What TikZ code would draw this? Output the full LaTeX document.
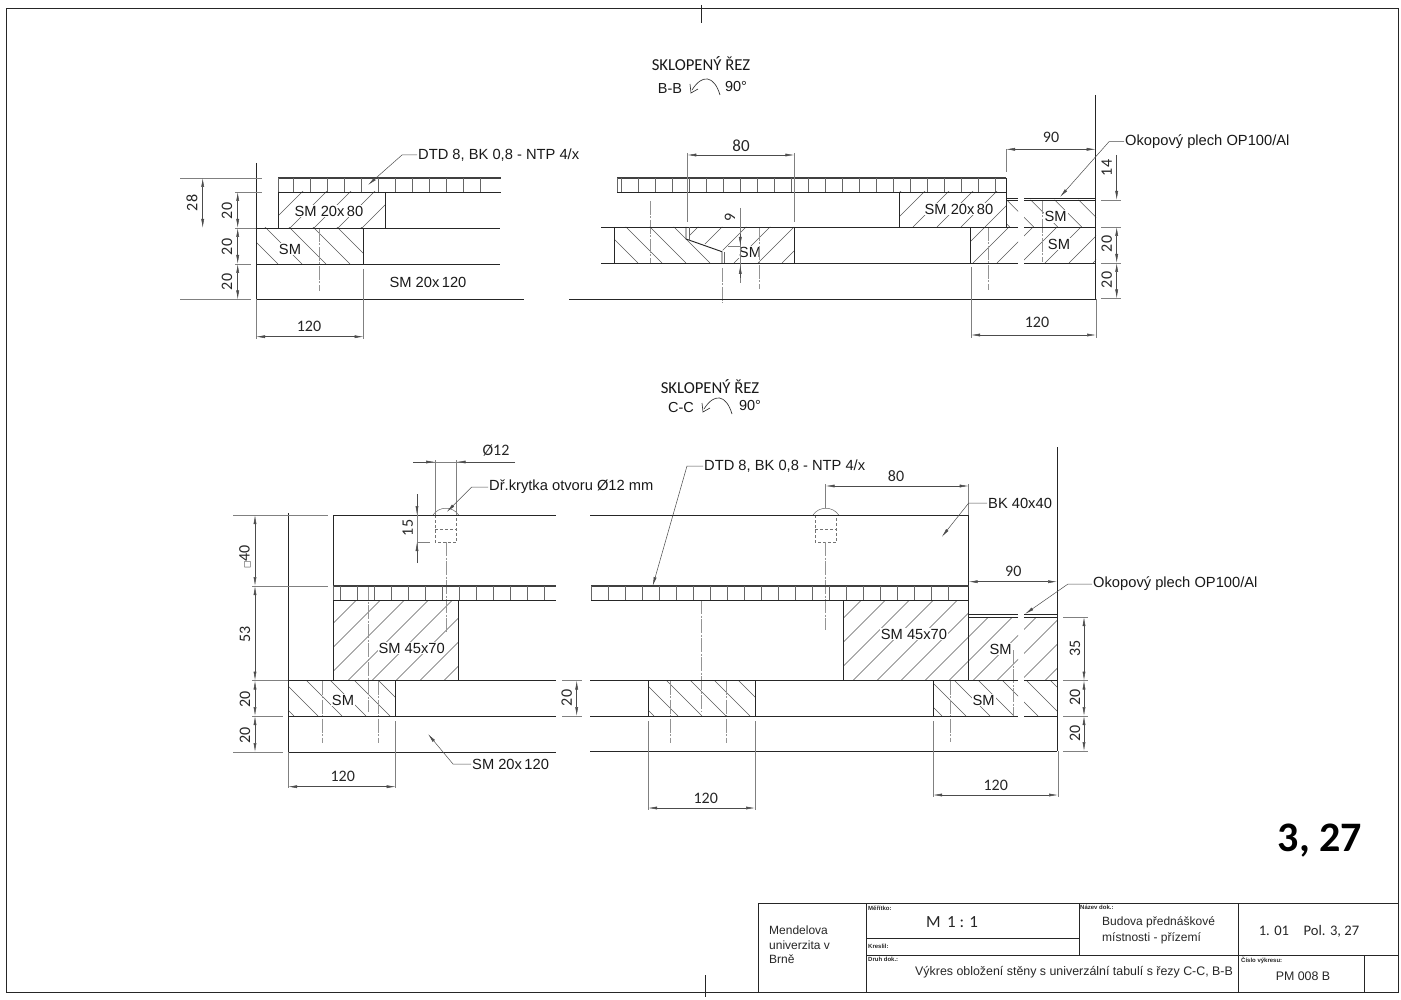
\documentclass[tikz,border=0pt]{standalone}
\usepackage{fontspec}
\setmainfont{Liberation Sans}
\newfontfamily\numfont{Carlito}
\newfontfamily\symfont{DejaVu Sans}
\usetikzlibrary{arrows.meta}

\tikzset{
	wall/.style={line width=0.95pt, black!85},
	thinline/.style={line width=0.5pt, black!60},
	extline/.style={line width=0.5pt, black!50},
	centerline/.style={line width=0.5pt, black!42, dash pattern=on 14pt off 1.5pt on 2pt off 1.5pt},
	hatchline/.style={line width=0.45pt, black!65},
	plugline/.style={line width=0.45pt, black!55, densely dashed},
	dimline/.style={line width=0.5pt, black!70, {Latex[length=9pt,width=3pt]}-{Latex[length=9pt,width=3pt]}},
	tipline/.style={line width=0.5pt, black!70, -{Latex[length=9pt,width=3pt]}},
	lab/.style={font=\fontsize{14.7}{17}\selectfont, black!90, inner sep=1pt},
	hatchlab/.style={lab, fill=white},
	num/.style={font=\numfont\fontsize{16}{18}\selectfont, black!85, inner sep=0pt},
	titl/.style={font=\numfont\fontsize{16.7}{18}\selectfont, black!90, inner sep=0pt},
	blockt/.style={font=\fontsize{12}{15}\selectfont, black!85, inner sep=0pt, anchor=west},
	tiny/.style={font=\bfseries\fontsize{6}{7}\selectfont, black!85, inner sep=0pt, anchor=west},
}

% hatching: clip path, lower y, x where one line meets lower y
\newcommand{\hatchup}[3]{
	\begin{scope}
		\clip #1;
		\foreach \hx in {-6,...,8}
			\draw[hatchline] ({#3+\hx*24},#2) -- ++(120,-120);
	\end{scope}
}
\newcommand{\hatchdown}[3]{
	\begin{scope}
		\clip #1;
		\foreach \hx in {-6,...,8}
			\draw[hatchline] ({#3+\hx*24},#2) -- ++(-120,-120);
	\end{scope}
}
% panel with its cells: x1, x2, y1, y2, tick list
\newcommand{\panelstrip}[5]{
	\draw[line width=1.3pt, black!75] (#1,#3) -- (#2,#3);
	\draw[wall] (#1,#4) -- (#2,#4);
	\draw[thinline] (#1,#3) -- (#1,#4);
	\foreach \tx in {#5}
		\draw[thinline] (\tx,#3) -- (\tx,#4);
}
% turned section mark
\newcommand{\turnmark}[2]{
	\begin{scope}[shift={(#1,#2)}]
		\draw[line width=0.65pt, black!80] (720,95) .. controls (714,75) and (702,74) .. (692,90);
		\draw[line width=0.65pt, black!80] (690,84) -- (691,93) -- (698,89);
	\end{scope}
}
% cap and plug: x1, x2, x of the axis, y of the axis end
\newcommand{\plugcap}[4]{
	\draw[thinline] (#1-2,515) .. controls (#1+4,506) and (#2-4,506) .. (#2+2,515);
	\draw[plugline] (#1,515) -- (#1,542) -- (#2,542) -- (#2,515);
	\draw[plugline] (#1,529) -- (#2,529);
	\draw[centerline] (#3,542) -- (#3,#4);
}

\begin{document}
\begin{tikzpicture}[x=1pt, y=-1pt]
	\useasboundingbox (0,0) rectangle (1401,1000);

	% sheet
	\draw[wall] (6,8) rectangle (1398,992);
	\draw[wall] (701,5) -- (701,23);
	\draw[wall] (705,975) -- (705,997);

	% titles
	\node[titl] (titleb) at (701,64) {SKLOPENÝ ŘEZ};
	\node[lab, font=\fontsize{14.5}{16}\selectfont] (markb) at (670,89) {B-B};
	\node[lab, font=\fontsize{14.5}{16}\selectfont] (angleb) at (736,87) {90°};
	\turnmark{0}{0}
	\node[titl] (titlec) at (710,387) {SKLOPENÝ ŘEZ};
	\node[lab, font=\fontsize{14.5}{16}\selectfont] (markc) at (681,408) {C-C};
	\node[lab, font=\fontsize{14.5}{16}\selectfont] (anglec) at (750,406) {90°};
	\turnmark{12}{319}
	\node[font=\numfont\bfseries\fontsize{42}{46}\selectfont, black, inner sep=0pt] (sheetno) at (1320,841) {3, 27};

	% ----- section B-B, left
	\hatchup{(278,192) rectangle (385,228)}{228}{290}
	\hatchdown{(256,228) rectangle (363.5,264)}{264}{278}
	\node[hatchlab] (bsma) at (329,211) {SM 20x\,80};
	\node[hatchlab] (bsmb) at (290,249) {SM};
	\node[lab] (bsmc) at (428,282) {SM 20x\,120};
	\draw[centerline] (319,228) -- (319,291);
	\draw[wall] (256,163) -- (256,299.5);
	\panelstrip{278}{501}{178}{192}{293.7,310.7,...,497}
	\draw[wall] (278,192) -- (278,228) (385,192) -- (385,228);
	\draw[wall] (256,228) -- (500,228);
	\draw[wall] (363.5,228) -- (363.5,264);
	\draw[wall] (256,264) -- (500,264);
	\draw[wall] (256,299.5) -- (524,299.5);
	\draw[extline] (180,178) -- (262,178) (235,192) -- (262,192) (235,228) -- (256,228);
	\draw[extline] (235,264) -- (251,264) (180,299.5) -- (251,299.5);
	\draw[dimline] (202.7,178) -- (202.7,228);
	\draw[dimline] (237.7,192) -- (237.7,228);
	\draw[dimline] (237.7,228) -- (237.7,264);
	\draw[dimline] (237.7,264) -- (237.7,299.5);
	\node[num, rotate=90] (bd28) at (192,203) {28};
	\node[num, rotate=90] (bd20a) at (227,211) {20};
	\node[num, rotate=90] (bd20b) at (227,247) {20};
	\node[num, rotate=90] (bd20c) at (227,282) {20};
	\draw[extline] (256,299.5) -- (256,339) (363.5,269) -- (363.5,339);
	\draw[dimline] (256,336.7) -- (363.5,336.7);
	\node[num] (bd120a) at (309,326) {120};
	\node[lab, anchor=west] (bdtd) at (417,155) {DTD 8, BK 0,8 - NTP 4/x};
	\coordinate (bdtdtip) at (368,185);
	\draw[tipline] (bdtd.west) -- (402,155) -- (bdtdtip);

	% ----- section B-B, right
	\hatchdown{(614.7,227) -- (686,227) -- (686,239) -- (722,252) -- (722,263) -- (614.7,263) -- cycle}{263}{638}
	\hatchup{(689,227) -- (794,227) -- (794,263) -- (724.5,263) -- (724.5,251) -- (689,238.5) -- cycle}{263}{734}
	\hatchup{(899.3,192) rectangle (1006,227)}{227}{913}
	\hatchup{(970.7,227) rectangle (1018,263) (1024,227) rectangle (1096,263)}{263}{973}
	\hatchdown{(1006,200) rectangle (1018,227) (1024,200) rectangle (1096,227)}{227}{1033.7}
	\node[hatchlab] (bsmd) at (750,252) {SM};
	\node[hatchlab] (bsme) at (959,209) {SM 20x\,80};
	\node[hatchlab] (bsmf) at (1055.7,216.7) {SM};
	\node[hatchlab] (bsmg) at (1059,244) {SM};
	\draw[centerline] (650,201) -- (650,263);
	\draw[centerline] (759,227) -- (759,289);
	\draw[centerline] (722,268) -- (722,303);
	\draw[centerline] (988,227) -- (988,290);
	\draw[centerline] (1042,200) -- (1042,262);
	\panelstrip{617}{1006}{178}{192}{621,638,...,1000}
	\draw[wall] (601,227) -- (1018,227) (1024,227) -- (1096,227);
	\draw[wall] (601,263) -- (1018,263) (1024,263) -- (1096,263);
	\draw[wall] (569,299) -- (1096,299);
	\draw[wall] (614.7,227) -- (614.7,263) (794,227) -- (794,263);
	\draw[wall] (899.3,192) -- (899.3,227) (1006,178) -- (1006,227);
	\draw[wall] (970.7,227) -- (970.7,263);
	\draw[wall] (686,227) -- (686,239) -- (722,251.7) -- (722,263);
	\draw[thinline] (689,227) -- (689,240) (724.5,252) -- (724.5,263);
	\draw[wall] (1006,198) -- (1018,198) (1024,198) -- (1096,198);
	\draw[wall] (1006,200.7) -- (1018,200.7) (1024,200.7) -- (1096,200.7);
	\draw[wall] (1095.7,95) -- (1095.7,299);
	\draw[extline] (687.3,153) -- (687.3,222) (794.3,153) -- (794.3,222);
	\draw[dimline] (687.3,155) -- (794.3,155);
	\node[num, font=\numfont\fontsize{17}{18}\selectfont] (bd80) at (741,146) {80};
	\draw[extline] (740.3,208) -- (740.3,283) (728,246) -- (740.3,246);
	\coordinate (bninea) at (740.3,234);
	\coordinate (bnineb) at (740.3,246);
	\coordinate (bninec) at (740.3,278);
	\coordinate (bnined) at (740.3,265);
	\draw[tipline] (bninea) -- (bnineb);
	\draw[tipline] (bninec) -- (bnined);
	\node[num, rotate=90] (bd9) at (730,217) {9};
	\draw[extline] (1006,149) -- (1006,172);
	\draw[dimline] (1006,149.3) -- (1095.7,149.3);
	\node[num] (bd90) at (1051,137) {90};
	\node[lab, anchor=west] (bokop) at (1124,141.7) {Okopový plech OP100/Al};
	\coordinate (boktip) at (1060,197);
	\draw[tipline] (bokop.west) -- (1109,141.7) -- (boktip);
	\draw[extline] (1101,200) -- (1121,200) (1101,227) -- (1121,227) (1101,263) -- (1121,263) (1101,298.5) -- (1121,298.5);
	\draw[tipline] (1116.7,155) -- (1116.7,200);
	\draw[dimline] (1116.7,227) -- (1116.7,263);
	\draw[dimline] (1116.7,263) -- (1116.7,298.5);
	\node[num, rotate=90] (bd14) at (1106.7,168) {14};
	\node[num, rotate=90] (bd20d) at (1106.7,244) {20};
	\node[num, rotate=90] (bd20e) at (1106.7,280) {20};
	\draw[extline] (971,267) -- (971,338) (1096,299) -- (1096,338);
	\draw[dimline] (971,335) -- (1096,335);
	\node[num] (bd120b) at (1037,322) {120};

	% ----- section C-C, left
	\hatchup{(333,600) rectangle (458,680.5)}{680.5}{348}
	\hatchdown{(288,680.5) rectangle (395.7,716)}{716}{294}
	\node[hatchlab] (csma) at (411.7,648) {SM 45x70};
	\node[hatchlab] (csmb) at (343,700) {SM};
	\draw[centerline] (368,586) -- (368,712);
	\draw[centerline] (322,680.5) -- (322,743);
	\draw[centerline] (378,680.5) -- (378,743);
	\plugcap{435}{456.7}{446}{632}
	\draw[wall] (288,513) -- (288,752);
	\draw[wall] (333,515) -- (556,515);
	\draw[wall] (333,515) -- (333,680.5);
	\panelstrip{333}{556}{586}{600}{340,357,...,545}
	\draw[wall] (458,600) -- (458,680.5);
	\draw[wall] (288,680.5) -- (556,680.5);
	\draw[wall] (395.7,680.5) -- (395.7,716);
	\draw[wall] (288,716) -- (556,716);
	\draw[wall] (288,752) -- (556,752);
	\draw[extline] (233,515) -- (328,515) (252,586) -- (328,586) (252,680.5) -- (288,680.5);
	\draw[extline] (252,716) -- (283,716) (233,752) -- (283,752);
	\draw[dimline] (255,515) -- (255,586);
	\draw[dimline] (255,586) -- (255,680.5);
	\draw[dimline] (255,680.5) -- (255,716);
	\draw[dimline] (255,716) -- (255,752);
	\node[num, rotate=90] (cd40) at (245,557) {{\symfont\fontsize{8}{8}\selectfont □}40};
	\node[num, rotate=90] (cd53) at (245,634) {53};
	\node[num, rotate=90] (cd20a) at (245,699) {20};
	\node[num, rotate=90] (cd20b) at (245,735) {20};
	\draw[extline] (435,460) -- (435,515) (456.7,460) -- (456.7,515);
	\draw[extline] (413,462) -- (515,462);
	\draw[tipline] (413,462) -- (435,462);
	\draw[tipline] (515,462) -- (456.7,462);
	\node[num] (cdiam) at (496,451) {Ø12};
	\draw[extline] (417,494) -- (417,563) (417,542) -- (430,542);
	\draw[tipline] (417,494) -- (417,515);
	\draw[tipline] (417,563) -- (417,542);
	\node[num, rotate=90] (cd15) at (407.7,528) {15};
	\node[lab, anchor=west] (ckryt) at (488,487) {Dř.krytka otvoru Ø12 mm};
	\coordinate (ckryttip) at (446.7,512);
	\draw[tipline] (ckryt.west) -- (471.7,487) -- (ckryttip);
	\draw[extline] (288,752) -- (288,788) (395.7,721) -- (395.7,788);
	\draw[dimline] (288,786.7) -- (395.7,786.7);
	\node[num] (cd120a) at (342.7,776) {120};
	\node[lab, anchor=west] (csmc) at (471,764) {SM 20x\,120};
	\coordinate (csmctip) at (428,734);
	\draw[tipline] (csmc.west) -- (453,764) -- (csmctip);
	\draw[extline] (562,680.5) -- (582,680.5) (562,716) -- (582,716);
	\draw[dimline] (576.7,680.5) -- (576.7,716);
	\node[num, rotate=90] (cd20c) at (566.7,698) {20};

	% ----- section C-C, right
	\hatchdown{(648,680.5) rectangle (755,716)}{716}{654}
	\hatchup{(843.7,600) rectangle (968.7,680.5)}{680.5}{853}
	\hatchup{(968.7,617) rectangle (1018,680.5) (1024,617) rectangle (1057,680.5)}{680.5}{973}
	\hatchdown{(933,680.5) rectangle (1018,716) (1024,680.5) rectangle (1057,716)}{716}{942}
	\node[hatchlab] (csmd) at (914,634) {SM 45x70};
	\node[hatchlab] (csme) at (1000.7,649) {SM};
	\node[hatchlab] (csmf) at (983.7,700) {SM};
	\draw[centerline] (701,600) -- (701,712);
	\draw[centerline] (670,680.5) -- (670,743);
	\draw[centerline] (726,680.5) -- (726,743);
	\draw[centerline] (950.7,680.5) -- (950.7,742);
	\draw[centerline] (1013.7,650) -- (1013.7,716);
	\plugcap{815}{836.7}{825.7}{630}
	\draw[wall] (590,515) -- (968.7,515);
	\draw[wall] (968.7,515) -- (968.7,680.5);
	\panelstrip{591}{968.7}{586}{600}{608.7,625.7,...,962}
	\draw[wall] (843.7,600) -- (843.7,680.5);
	\draw[wall] (590,680.5) -- (1018,680.5) (1024,680.5) -- (1057,680.5);
	\draw[wall] (648,680.5) -- (648,716) (755,680.5) -- (755,716) (933,680.5) -- (933,716);
	\draw[wall] (590,716) -- (1018,716) (1024,716) -- (1057,716);
	\draw[wall] (590,751) -- (1057,751);
	\draw[wall] (968.7,614) -- (1018,614) (1024,614) -- (1057,614);
	\draw[wall] (968.7,617) -- (1018,617) (1024,617) -- (1057,617);
	\draw[wall] (1057,447) -- (1057,751);
	\draw[extline] (825.7,484) -- (825.7,508) (968.7,484) -- (968.7,515);
	\draw[dimline] (825.7,486) -- (968.7,486);
	\node[num] (cd80) at (896,476) {80};
	\draw[dimline] (968.7,581.7) -- (1057,581.7);
	\node[num] (cd90) at (1013.3,571) {90};
	\draw[extline] (648,721) -- (648,810) (755,721) -- (755,810);
	\draw[dimline] (648,808) -- (755,808);
	\node[num] (cd120b) at (705.7,798) {120};
	\draw[extline] (933,721) -- (933,797) (1058,751) -- (1058,797);
	\draw[dimline] (933,795) -- (1058,795);
	\node[num] (cd120c) at (995.7,785) {120};
	\draw[extline] (1063,617) -- (1088,617) (1063,680.5) -- (1088,680.5) (1063,716) -- (1088,716) (1063,751) -- (1088,751);
	\draw[dimline] (1084,617) -- (1084,680.5);
	\draw[dimline] (1084,680.5) -- (1084,716);
	\draw[dimline] (1084,716) -- (1084,751);
	\node[num, rotate=90] (cd35) at (1075,648) {35};
	\node[num, rotate=90] (cd20d) at (1075,697) {20};
	\node[num, rotate=90] (cd20e) at (1075,733) {20};
	\node[lab, anchor=west] (cdtd) at (703,466) {DTD 8, BK 0,8 - NTP 4/x};
	\coordinate (cdtdtip) at (652.7,586);
	\draw[tipline] (cdtd.west) -- (687,466) -- (cdtdtip);
	\node[lab, anchor=west] (cbk) at (987,503) {BK 40x40};
	\coordinate (cbktip) at (941.7,537);
	\draw[tipline] (cbk.west) -- (968.7,503) -- (cbktip);
	\node[lab, anchor=west] (cokop) at (1092,584) {Okopový plech OP100/Al};
	\coordinate (coktip) at (1025,614);
	\draw[tipline] (cokop.west) -- (1068,584) -- (coktip);

	% ----- title block
	\draw[wall] (758,903) rectangle (1398,992);
	\draw[wall] (866,903) -- (866,992) (1079,903) -- (1079,955) (1238,903) -- (1238,992) (1364,955) -- (1364,992);
	\draw[wall] (866,938) -- (1079,938) (866,955) -- (1398,955);
	\node[blockt] (schoola) at (769,930) {Mendelova};
	\node[blockt] (schoolb) at (769,945) {univerzita v};
	\node[blockt] (schoolc) at (769,959) {Brně};
	\node[tiny] (scalehd) at (868,908) {Měřítko:};
	\node[blockt, anchor=center, font=\numfont\fontsize{17}{18}\selectfont] (scaleval) at (952,922) {M\, 1 : 1};
	\node[tiny] (drawnhd) at (868,946) {Kreslil:};
	\node[tiny] (kindhd) at (868,959) {Druh dok.:};
	\node[blockt, font=\fontsize{12.4}{15}\selectfont] (kindval) at (915,972) {Výkres obložení stěny s univerzální tabulí s řezy C-C, B-B};
	\node[tiny] (namehd) at (1080,907) {Název dok.:};
	\node[blockt] (namea) at (1102,922) {Budova přednáškové};
	\node[blockt] (nameb) at (1102,938) {místnosti - přízemí};
	\node[blockt, anchor=center, font=\numfont\fontsize{14.6}{16}\selectfont] (posval) at (1309,931) {1. 01\quad Pol. 3, 27};
	\node[tiny] (numhd) at (1241,960) {Číslo výkresu:};
	\node[blockt, anchor=center, font=\fontsize{12.4}{15}\selectfont] (numval) at (1303,976) {PM 008 B};
\end{tikzpicture}
\end{document}
